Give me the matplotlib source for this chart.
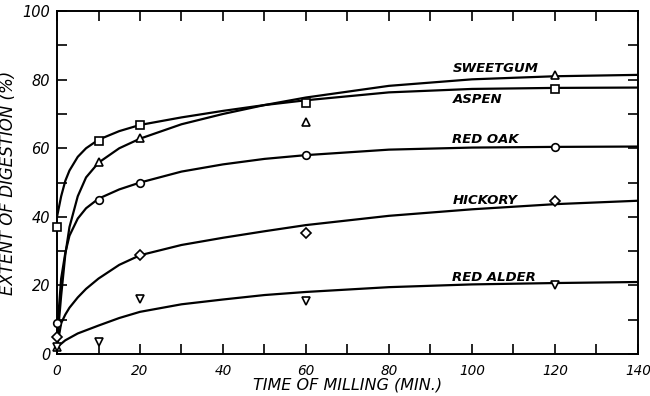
import matplotlib.pyplot as plt
from matplotlib.ticker import MultipleLocator

# measured points (minutes, % digested)
t_aspen = [0, 10, 20, 60, 120]
y_aspen = [37, 62, 66.8, 73.2, 77.3]
t_sweet = [0, 10, 20, 60, 120]
y_sweet = [2, 56, 63, 67.6, 81.3]
t_oak = [0, 10, 20, 60, 120]
y_oak = [9, 45, 50, 58, 60.5]
t_hick = [0, 20, 60, 120]
y_hick = [5, 29, 35.3, 44.5]
t_alder = [0, 10, 20, 60, 120]
y_alder = [2, 3.5, 16, 15.5, 20]

# hand-drawn fitted curves
cx = [0, 1, 2, 3, 5, 7, 10, 15, 20, 30, 40, 50, 60, 80, 100, 120, 140]
c_aspen = [40, 46, 50.5, 53.5, 57.5, 60, 62.5, 65, 66.8, 69, 70.9, 72.6, 74, 76.3, 77.3, 77.6, 77.7]
c_sweet = [3, 17, 29, 37, 46, 51.5, 55.8, 60, 62.8, 67, 70, 72.6, 74.8, 78.2, 80.1, 81, 81.4]
c_oak = [6, 22, 29.5, 34.5, 39.5, 42.5, 45.3, 48, 50, 53.2, 55.3, 56.9, 58, 59.6, 60.2, 60.4, 60.5]
c_hick = [2, 9, 11.5, 13.5, 16.5, 19, 22, 26, 28.8, 31.8, 33.9, 35.8, 37.6, 40.3, 42.2, 43.7, 44.7]
cx_alder = [0, 2, 5, 10, 15, 20, 30, 40, 50, 60, 80, 100, 120, 140]
c_alder = [2, 4, 6, 8.3, 10.5, 12.3, 14.5, 15.9, 17.2, 18.1, 19.5, 20.3, 20.7, 21]

names = ['SWEETGUM', 'ASPEN', 'RED OAK', 'HICKORY', 'RED ALDER']
label_y = [82.2, 73.2, 61.5, 43.7, 21.3]

font = dict(family='DejaVu Sans', style='italic')

fig = plt.figure(figsize=(6.5, 3.96), dpi=100)
ax = fig.add_axes([0.0877, 0.106, 0.8938, 0.866])

lw = 1.6
for x, y in [(cx, c_aspen), (cx, c_sweet), (cx, c_oak), (cx, c_hick), (cx_alder, c_alder)]:
    ax.plot(x, y, color='black', lw=lw, solid_capstyle='round')

mk = dict(color='black', mfc='white', mec='black', mew=1.2, ls='none', ms=5.5, clip_on=False, zorder=5)
ax.plot(t_aspen, y_aspen, marker='s', **mk)
ax.plot(t_sweet, y_sweet, marker='^', **mk)
ax.plot(t_oak, y_oak, marker='o', **mk)
ax.plot(t_hick, y_hick, marker='D', **{**mk, 'ms': 5})
ax.plot(t_alder, y_alder, marker='v', **mk)

for name, ly in zip(names, label_y):
    ax.text(95.3, ly, name, fontsize=9.5, weight='bold', ha='left', va='baseline', **font)

ax.set_xlim(0, 140)
ax.set_ylim(0, 100)
ax.xaxis.set_major_locator(MultipleLocator(20))
ax.xaxis.set_minor_locator(MultipleLocator(10))
ax.yaxis.set_major_locator(MultipleLocator(20))
ax.yaxis.set_minor_locator(MultipleLocator(10))
ax.tick_params(which='both', direction='in', top=True, right=True, width=1.2)
ax.tick_params(which='major', length=7)
ax.tick_params(which='minor', length=7)
ax.tick_params(axis='x', labelsize=9.8, pad=7)
ax.tick_params(axis='y', labelsize=10.5, pad=5)
for lab in ax.get_xticklabels() + ax.get_yticklabels():
    lab.set_fontstyle('italic')
for s in ax.spines.values():
    s.set_linewidth(1.4)

ax.set_xlabel('TIME OF MILLING (MIN.)', fontsize=11.5, labelpad=0, **font)
ax.set_ylabel('EXTENT OF DIGESTION (%)', fontsize=12, labelpad=4, **font)

fig.savefig('out.png', dpi=100)
